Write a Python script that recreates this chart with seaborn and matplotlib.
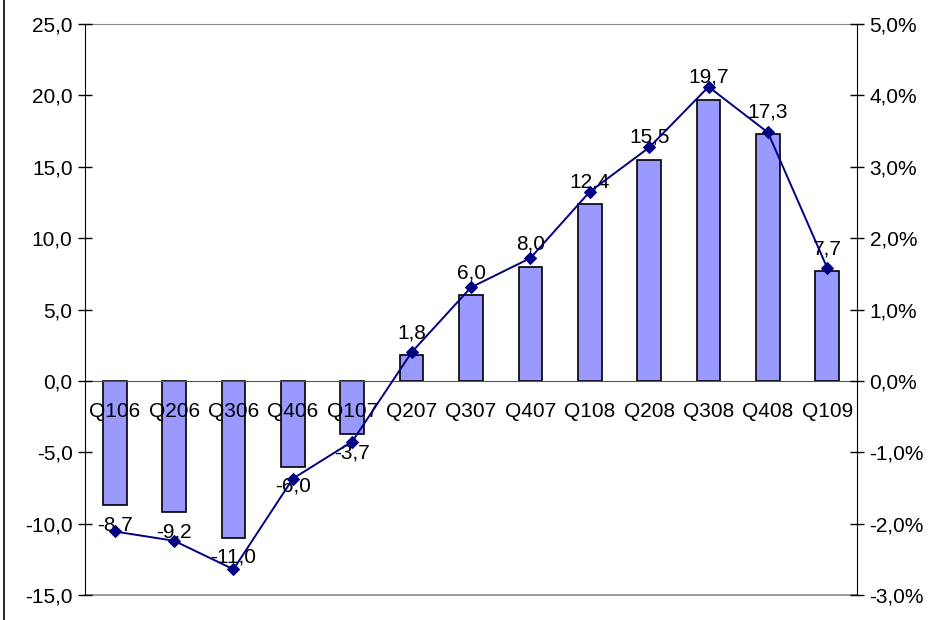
import numpy as np
import pandas as pd
import matplotlib
matplotlib.use("Agg")
import matplotlib.pyplot as plt
from matplotlib.ticker import FuncFormatter, MultipleLocator, FixedLocator
from matplotlib.lines import Line2D
import seaborn as sns

# ---------- data ----------
quarters = ["Q106", "Q206", "Q306", "Q406", "Q107", "Q207", "Q307",
            "Q407", "Q108", "Q208", "Q308", "Q408", "Q109"]
bar_values = [-8.7, -9.2, -11.0, -6.0, -3.7, 1.8, 6.0, 8.0, 12.4, 15.5, 19.7, 17.3, 7.7]
line_pct = [-2.11, -2.24, -2.64, -1.37, -0.85, 0.40, 1.31, 1.72, 2.65, 3.27, 4.12, 3.48, 1.58]

df = pd.DataFrame({"quarter": quarters, "value": bar_values, "pct": line_pct})
df["pos"] = np.arange(len(df))

# ---------- style ----------
sns.set_style("white")
plt.rcParams["font.family"] = ["Liberation Sans", "DejaVu Sans"]
plt.rcParams["text.color"] = "black"
plt.rcParams["xtick.color"] = "black"
plt.rcParams["ytick.color"] = "black"
fs = 15

fig = plt.figure(figsize=(9.33, 6.2), dpi=100)
ax = fig.add_axes([85 / 933, 1 - 595 / 620, (857 - 85) / 933, (595 - 24) / 620])

# ---------- bars ----------
sns.barplot(data=df, x="pos", y="value", order=list(df["pos"]), color="#9999FF",
            saturation=1, width=0.40, edgecolor="black", linewidth=1.2, ax=ax)

ax.set_xlim(-0.5, len(df) - 0.5)
ax.set_ylim(-15, 25)
ax.set_axisbelow(False)
ax.yaxis.set_major_locator(MultipleLocator(5))
ax.yaxis.set_major_formatter(FuncFormatter(lambda v, p: f"{v:.1f}".replace(".", ",")))

# x axis sits on the zero line
ax.spines["bottom"].set_position(("data", 0))
ax.spines["bottom"].set_color("#555555")
ax.spines["top"].set_color("#888888")
ax.spines["left"].set_color("black")
ax.spines["right"].set_visible(False)
ax.axhline(-15, color="#888888", lw=1.2, zorder=0, clip_on=False)

ax.set_xticks(df["pos"])
ax.set_xticklabels(df["quarter"], fontsize=fs, color="black")
ax.xaxis.set_minor_locator(FixedLocator(np.arange(len(df) + 1) - 0.5))
ax.tick_params(axis="x", which="major", length=0, pad=15, labelcolor="black")
ax.tick_params(axis="x", which="minor", direction="inout", length=12, color="#333333", width=1)
ax.tick_params(axis="y", direction="inout", length=10, width=1, colors="black", labelsize=fs, pad=4,
               left=True)
ax.set_xlabel("")
ax.set_ylabel("")

# value labels
for x, v in zip(df["pos"], df["value"]):
    off = 16 if v > 0 else -14
    ax.annotate(f"{v:.1f}".replace(".", ","), (x, v), xytext=(0, off),
                textcoords="offset points", ha="center", va="center", fontsize=fs,
                color="black", zorder=5)

# ---------- line on secondary axis ----------
ax2 = ax.twinx()
sns.lineplot(data=df, x="pos", y="pct", color="#000080", lw=1.4, marker="D",
             markersize=6, markeredgecolor="#000080", ax=ax2)
ax2.set_ylim(-3, 5)
ax2.yaxis.set_major_locator(MultipleLocator(1))
ax2.yaxis.set_major_formatter(FuncFormatter(lambda v, p: f"{v:.1f}%".replace(".", ",")))
ax2.tick_params(axis="y", direction="inout", length=10, width=1, colors="black", labelsize=fs,
                pad=4, right=True)
for s in ["top", "bottom", "left"]:
    ax2.spines[s].set_visible(False)
ax2.spines["right"].set_color("black")
ax2.set_xlabel("")
ax2.set_ylabel("")
ax2.set_xlim(-0.5, len(df) - 0.5)

# outer chart border on the left
fig.add_artist(Line2D([4 / 933, 4 / 933], [0, 1], color="black", lw=1.2))

fig.savefig("out.png", dpi=100)
